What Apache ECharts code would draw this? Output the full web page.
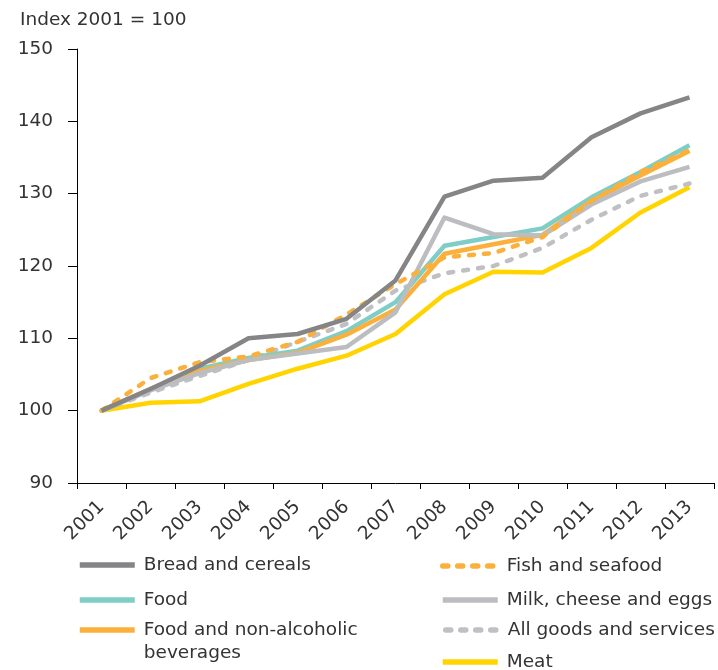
<!DOCTYPE html>
<html><head><meta charset="utf-8">
<script src="https://cdn.jsdelivr.net/npm/echarts@6/dist/echarts.min.js"></script>
<style>html,body{margin:0;padding:0;background:#fff}#c{width:718px;height:670px}</style>
</head><body><div id="c"></div>
<script>
const years = ['2001','2002','2003','2004','2005','2006','2007','2008','2009','2010','2011','2012','2013'];
const breadCereals = [100,103,106.2,110,110.6,112.7,118,129.6,131.8,132.2,137.8,141.1,143.3];
const food = [100,103,105.8,107.3,108.3,111,115,122.8,124,125.2,129.5,133,136.7];
const foodBev = [100,103,105.5,107,108,110.5,114,121.7,123,124.3,129,132.5,135.9];
const fishSeafood = [100,104.5,106.7,107.5,109.5,113.3,117.5,121.2,121.8,124,129,133,136];
const milkCheeseEggs = [100,102.8,105.2,107,107.9,108.8,113.6,126.7,124.4,124.2,128.5,131.7,133.7];
const allGoods = [100,102.5,104.8,107,109.5,112,116.6,119,120,122.5,126.4,129.7,131.4];
const meat = [100,101.1,101.3,103.7,105.8,107.6,110.6,116.1,119.2,119.1,122.5,127.4,130.9];

const FONT = 'DejaVu Sans';
const FS = 18.5;
function line(name, data, color, dash) {
  return {
    name, type: 'line', data, symbol: 'none', silent: true,
    lineStyle: { color, width: 4.5, type: dash ? [5, 10] : 'solid', cap: dash ? 'round' : 'butt', join: 'round' },
    itemStyle: { color }
  };
}
const series = [
  line('Meat', meat, '#ffd400', false),
  line('All goods and services', allGoods, '#bfc0c3', true),
  line('Food', food, '#7fcdc7', false),
  line('Food and non-alcoholic beverages', foodBev, '#fbb03b', false),
  line('Milk, cheese and eggs', milkCheeseEggs, '#bcbdc0', false),
  line('Fish and seafood', fishSeafood, '#fbb03b', true),
  line('Bread and cereals', breadCereals, '#858587', false)
];
const richT = { a: { fontFamily: FONT, fontSize: FS, color: '#333', lineHeight: 23, padding: [0, 0, 0, 4] } };
function leg(name, left, top, extra) {
  return Object.assign({ data: [name], left, top, padding: 0, itemWidth: 55, itemHeight: 14, itemGap: 10,
    selectedMode: false,
    itemStyle: { opacity: 0 },
    lineStyle: { width: 5.5 },
    formatter: (n) => '{a|' + n + '}',
    textStyle: { fontFamily: FONT, fontSize: FS, color: '#333', lineHeight: 23, rich: richT } }, extra || {});
}
const chart = echarts.init(document.getElementById('c'), null, { renderer: 'canvas' });
chart.setOption({
  animation: false,
  grid: { left: 77, right: 4, top: 49, bottom: 187 },
  title: { text: 'Index 2001 = 100', left: 20, top: 9, padding: 0,
    textStyle: { fontFamily: FONT, fontSize: FS, fontWeight: 'normal', color: '#333', lineHeight: 22 } },
  legend: [
    leg('Bread and cereals', 77, 553.5),
    leg('Food', 77, 588.5),
    leg('Food and non-alcoholic beverages', 77, 595.5, {
      formatter: () => '{a| }\n{a|Food and non-alcoholic}\n{a|beverages}'
    }),
    leg('Fish and seafood', 440, 554.5),
    leg('Milk, cheese and eggs', 440, 588.5),
    leg('All goods and services', 443, 618.5, { itemWidth: 53 }),
    leg('Meat', 440, 650.5)
  ],
  xAxis: {
    type: 'category', data: years, boundaryGap: true,
    axisLine: { lineStyle: { color: '#000', width: 1 } },
    axisTick: { show: true, length: 6, lineStyle: { color: '#000' } },
    axisLabel: { rotate: 45, fontFamily: FONT, fontSize: FS, color: '#333', margin: 21, padding: [16, 0, 0, 0] }
  },
  yAxis: {
    type: 'value', min: 90, max: 150, interval: 10,
    axisLine: { show: true, lineStyle: { color: '#000', width: 1 } },
    axisTick: { show: true, length: 9, lineStyle: { color: '#000' } },
    splitLine: { show: false },
    axisLabel: { fontFamily: FONT, fontSize: FS, color: '#333', margin: 24 }
  },
  series
});
</script></body></html>
